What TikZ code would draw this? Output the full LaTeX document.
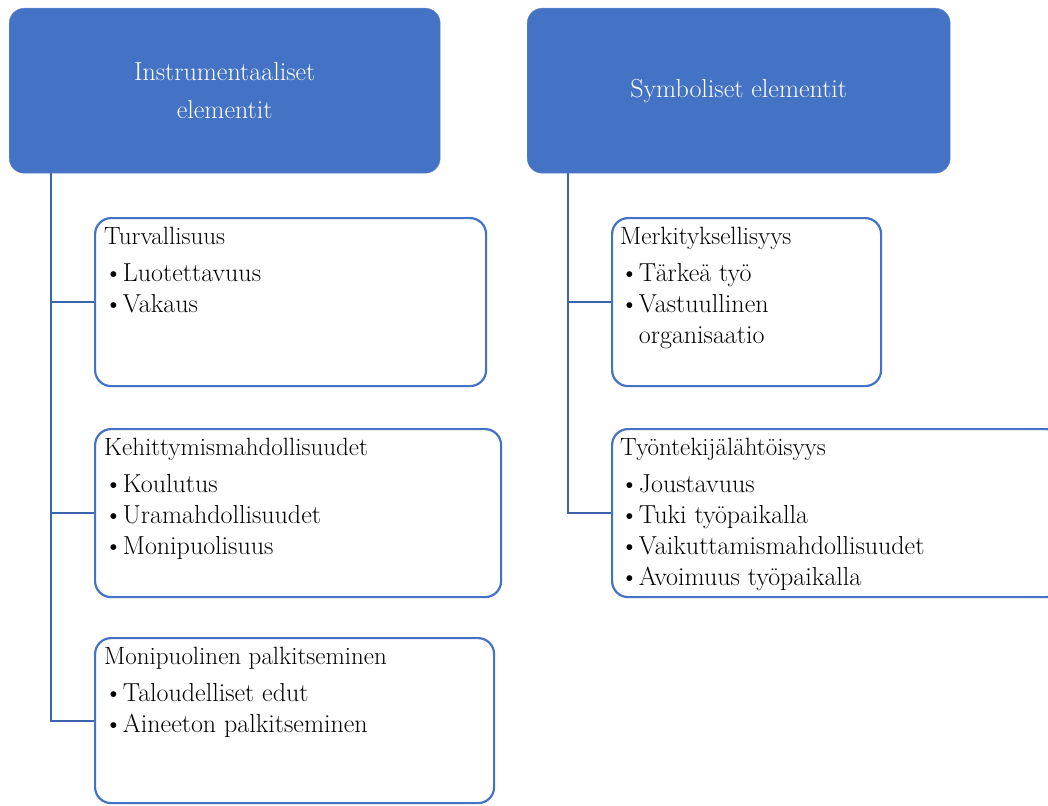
\documentclass[tikz,border=0pt]{standalone}
\usepackage{tikz}
\usetikzlibrary{positioning}
\definecolor{hdblue}{HTML}{4472C4}
\definecolor{lnblue}{HTML}{3B64AD}
\newcommand{\boxtitle}[1]{{\fontsize{25}{31}\selectfont #1}\\[6pt]}

\begin{document}
\begin{tikzpicture}[x=1pt, y=-1pt,
  headbox/.style={fill=hdblue, draw=hdblue!85!white, rounded corners=15pt, minimum height=165pt,
    anchor=north west, text=white, align=center, font=\fontsize{26}{38}\selectfont},
  subbox/.style={draw=hdblue, line width=2.2pt, rounded corners=16pt, minimum height=168pt, anchor=north west},
  subtxt/.style={anchor=north west, align=left, inner sep=0pt, font=\fontsize{26}{31}\selectfont},
  conn/.style={draw=lnblue, line width=2.2pt}]
\useasboundingbox (0,0) rectangle (1048,805);

% headers
\node[headbox, minimum width=431pt] (instr) at (9,8) {Instrumentaaliset\\elementit};
\node[headbox, minimum width=423pt] (symb) at (527,8) {Symboliset elementit};

% left column
\node[subbox, minimum width=391pt] (turv) at (94,217) {};
\node[subbox, minimum width=406pt] (kehit) at (94,428) {};
\node[subbox, minimum width=399pt, minimum height=165pt] (monip) at (94,637) {};
\node[subtxt] (turvtxt) at ([shift={(10,10)}]turv.north west)
  {\boxtitle{Turvallisuus} \textbullet Luotettavuus\\ \textbullet Vakaus};
\node[subtxt] (kehittxt) at ([shift={(10,10)}]kehit.north west)
  {\boxtitle{Kehittymismahdollisuudet} \textbullet Koulutus\\ \textbullet Uramahdollisuudet\\ \textbullet Monipuolisuus};
\node[subtxt] (moniptxt) at ([shift={(10,10)}]monip.north west)
  {\boxtitle{Monipuolinen palkitseminen} \textbullet Taloudelliset edut\\ \textbullet Aineeton palkitseminen};

% right column
\node[subbox, minimum width=269pt] (merk) at (611,217) {};
\node[subbox, minimum width=450pt] (tyont) at (611,428) {};
\node[subtxt] (merktxt) at ([shift={(9,10)}]merk.north west)
  {\boxtitle{Merkityksellisyys} \textbullet Tärkeä työ\\ \textbullet Vastuullinen\\ \phantom{\textbullet}organisaatio};
\node[subtxt] (tyonttxt) at ([shift={(9,10)}]tyont.north west)
  {\boxtitle{Työntekijälähtöisyys} \textbullet Joustavuus\\ \textbullet Tuki työpaikalla\\ \textbullet Vaikuttamismahdollisuudet\\ \textbullet Avoimuus työpaikalla};

% connectors
\coordinate (ltrunk) at ([xshift=42pt]instr.south west);
\coordinate (rtrunk) at ([xshift=41pt]symb.south west);
\draw[conn] (ltrunk) |- (monip.west);
\draw[conn] (rtrunk) |- (tyont.west);
\foreach \b in {turv, kehit}
    \draw[conn] (ltrunk |- \b.west) -- (\b.west);
\draw[conn] (rtrunk |- merk.west) -- (merk.west);
\end{tikzpicture}
\end{document}
